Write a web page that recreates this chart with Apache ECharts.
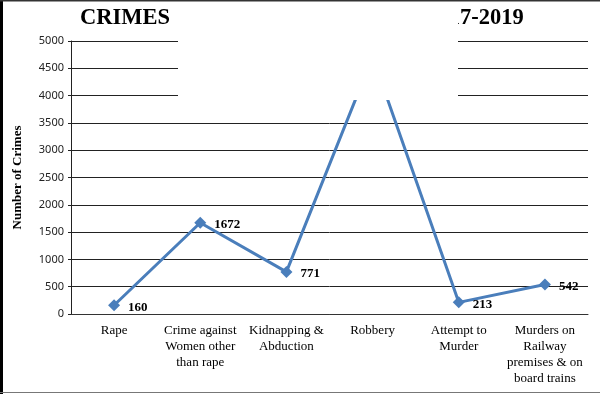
<!DOCTYPE html>
<html>
<head>
<meta charset="utf-8">
<script src="https://cdn.jsdelivr.net/npm/echarts@6/dist/echarts.min.js"></script>
<style>html,body{margin:0;padding:0;background:#fff}#c{width:600px;height:394px}</style>
</head>
<body>
<div id="c"></div>
<script>
var titleWords = ['CRIMES', 'REPORTED', 'DURING', '2017-2019'];
var categories = ['Rape', 'Crime against\nWomen other\nthan rape', 'Kidnapping &\nAbduction', 'Robbery', 'Attempt to\nMurder', 'Murders on\nRailway\npremises & on\nboard trains'];
var values = [160, 1672, 771, 4710, 213, 542];
var yTicks = [0, 500, 1000, 1500, 2000, 2500, 3000, 3500, 4000, 4500, 5000];
var yName = 'Number of Crimes';

var titleStyle = {fontFamily: 'Liberation Serif', fontWeight: 'bold', fontSize: 22.5, color: '#000', padding: [0, 4, 0, 4]};

var chart = echarts.init(document.getElementById('c'), null, {renderer: 'canvas'});
chart.setOption({
  animation: false,
  backgroundColor: '#fff',
  title: {
    text: titleWords.map(function (w) { return '{w|' + w + '}'; }).join(' '),
    left: 71,
    top: 2,
    textStyle: {fontFamily: 'Liberation Serif', fontWeight: 'bold', fontSize: 22.5, color: '#000', rich: {w: titleStyle}}
  },
  grid: {left: 71, right: 12, top: 41, bottom: 80, containLabel: false},
  xAxis: {
    type: 'category',
    data: categories,
    boundaryGap: true,
    axisLine: {lineStyle: {color: '#333', width: 1}},
    axisTick: {show: false},
    axisLabel: {interval: 0, margin: 9, fontFamily: 'Liberation Serif', fontSize: 13, color: '#000', lineHeight: 16}
  },
  yAxis: {
    type: 'value',
    min: yTicks[0],
    max: yTicks[yTicks.length - 1],
    interval: 500,
    name: yName,
    nameLocation: 'middle',
    nameGap: 47,
    nameTextStyle: {fontFamily: 'Liberation Serif', fontWeight: 'bold', fontSize: 13, color: '#000'},
    axisLine: {show: true, lineStyle: {color: '#222', width: 1}},
    axisTick: {show: true, length: 3, lineStyle: {color: '#222'}},
    axisLabel: {margin: 7, fontFamily: 'Noto Sans', fontSize: 11, color: '#222', formatter: function (v) { return String(v); }},
    splitLine: {lineStyle: {color: '#222', width: 1}}
  },
  series: [{
    type: 'line',
    data: values,
    symbol: 'diamond',
    symbolSize: 12,
    lineStyle: {color: '#4a7ebb', width: 3},
    itemStyle: {color: '#4a7ebb'},
    label: {show: true, position: 'right', distance: 8, fontFamily: 'Liberation Serif', fontWeight: 'bold', fontSize: 13, color: '#000', offset: [0, 2]}
  }],
  graphic: [
    {type: 'rect', z: 100, shape: {x: 178, y: 7, width: 280, height: 93}, style: {fill: '#fff'}},
    {type: 'rect', z: 101, shape: {x: 0, y: 0, width: 3, height: 394}, style: {fill: '#000'}},
    {type: 'rect', z: 101, shape: {x: 0, y: 0, width: 600, height: 1.5}, style: {fill: '#333'}},
    {type: 'rect', z: 101, shape: {x: 0, y: 392, width: 600, height: 1}, style: {fill: '#777'}}
  ]
});
</script>
</body>
</html>
